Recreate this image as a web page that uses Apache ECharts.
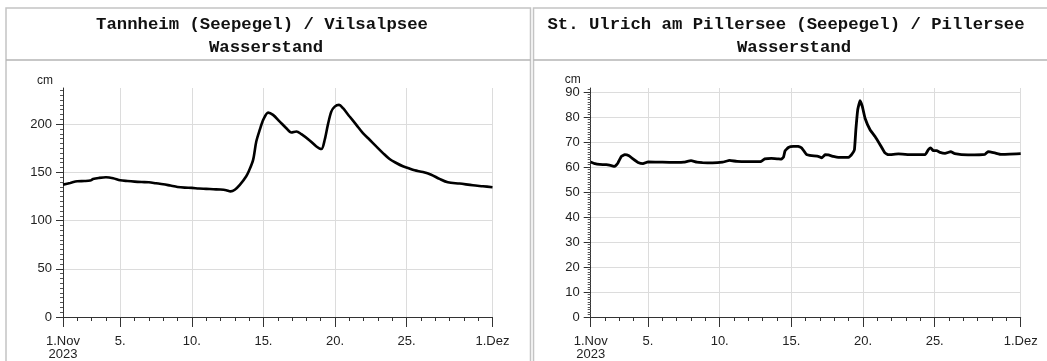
<!DOCTYPE html>
<html><head><meta charset="utf-8">
<script src="https://cdn.jsdelivr.net/npm/echarts@6/dist/echarts.min.js"></script>
<style>html,body{margin:0;padding:0;background:#fff}#c{width:1047px;height:361px}</style>
</head><body><div id="c"></div><script>
const titleLeft = ['Tannheim (Seepegel) / Vilsalpsee', 'Wasserstand'];
const titleRight = ['St. Ulrich am Pillersee (Seepegel) / Pillersee', 'Wasserstand'];
const unitName = 'cm';
const dayTicks = [1,2,3,4,5,6,7,8,9,10,11,12,13,14,15,16,17,18,19,20,21,22,23,24,25,26,27,28,29,30,31];
const xTickDays = [1,5,10,15,20,25,31];
const xTickLabels = ['1.Nov\n2023','5.','10.','15.','20.','25.','1.Dez'];
const yTicksLeft = [0,50,100,150,200];
const yTicksRight = [0,10,20,30,40,50,60,70,80,90];

// Tannheim / Vilsalpsee (day of Nov, fractional; cm)
const tannheimDays = [1,1.5,2,2.5,2.9,3.1,3.5,4,4.5,5,5.5,6,6.5,7,7.5,8,8.5,9,9.5,10,10.5,11,11.5,12,12.4,12.7,13,13.35,13.8,14,14.28,14.5,14.74,15,15.33,15.67,16.14,16.6,16.95,17.3,17.65,18.23,18.7,19.05,19.28,19.5,19.74,19.98,20.28,20.56,21.02,21.49,21.95,22.42,22.88,23.35,23.81,24.28,24.74,25.09,25.56,26.14,26.72,27.3,27.88,28.7,29.63,30.33,31];
const tannheimLevel = [137.3,139,140.8,141,141.5,143,144.2,145,144,141.8,141,140.4,140,139.7,138.7,137.7,136.3,134.9,134.2,133.9,133.2,132.9,132.5,132.2,131.5,130.3,132,137,146,152,163,182,194,205,212,209.6,202.7,195.8,191.4,192.4,189.6,183.1,176.9,174.2,183.8,199.3,213,218.2,220,216.5,207.9,199.3,190.7,183.8,176.9,170,163.8,159.7,156.3,154.5,152.1,150.4,147.6,143.2,139.7,138.4,136.6,135.6,134.6];

// St. Ulrich / Pillersee
const pillerDays = [1,1.3,1.63,2.09,2.44,2.67,2.9,3.14,3.37,3.67,3.95,4.3,4.65,5,6,7,7.5,8,8.4,8.8,9.5,10.2,10.7,11.2,12,12.84,13.14,13.6,14.07,14.3,14.45,14.56,14.79,15.14,15.49,15.72,16.07,16.42,16.88,17.12,17.35,17.58,17.93,18.28,18.98,19.2,19.4,19.5,19.63,19.79,19.95,20.14,20.49,20.84,21.19,21.53,21.77,22.47,23.4,24.33,24.56,24.72,24.9,25.14,25.37,25.72,26.12,26.4,27.33,28.5,28.72,29.19,29.65,31];
const pillerLevel = [62.1,61.4,61.1,61,60.6,60.3,61.7,64.3,65,64.6,63.3,61.9,61.4,62.1,62,61.9,62,62.6,62,61.8,61.7,62,62.7,62.3,62.2,62.2,63.3,63.5,63.3,63.2,64,66.5,67.9,68.3,68.3,67.7,65,64.6,64.3,63.7,65,64.9,64.3,63.9,63.9,65,67,75,83,86.6,84.3,79.6,75,72.3,69,65.7,65,65.3,65,65,67,67.7,66.6,66.6,65.9,65.5,66.2,65.4,64.9,65.1,66.2,65.7,65.1,65.4];

const axisColor = '#333';
const gridColor = '#dcdcdc';
const textColor = '#222';
const labelFont = 'Liberation Sans';

function pairs(xs, ys) { return xs.map((x, i) => [x, ys[i]]); }

function xAxesFor(g) {
  return [
    { gridIndex: g, type: 'value', min: 1, max: 31, position: 'bottom',
      axisLine: { show: true, lineStyle: { color: axisColor, width: 1 } },
      axisTick: { show: true, customValues: dayTicks, length: 4, lineStyle: { color: axisColor } },
      axisLabel: { show: false }, splitLine: { show: false } },
    { gridIndex: g, type: 'value', min: 1, max: 31, position: 'bottom',
      axisLine: { show: false },
      axisTick: { show: true, customValues: xTickDays, length: 10, lineStyle: { color: axisColor } },
      axisLabel: { show: true, customValues: xTickDays, showMinLabel: true, showMaxLabel: true,
        formatter: v => xTickLabels[xTickDays.indexOf(v)] || '',
        color: textColor, fontSize: 13, lineHeight: 13, margin: 18, fontFamily: labelFont },
      splitLine: { show: true, lineStyle: { color: gridColor, width: 1 } } }
  ];
}

function yAxisFor(g, max, interval, ticks) {
  return { gridIndex: g, type: 'value', min: 0, max: max, interval: interval,
    name: unitName, nameLocation: 'end', nameGap: 1,
    nameTextStyle: { align: 'right', verticalAlign: 'bottom', padding: [0, 10, 0, 0], color: textColor, fontSize: 12, fontFamily: labelFont },
    axisLine: { show: true, lineStyle: { color: axisColor, width: 1 } },
    axisTick: { show: true, customValues: ticks, length: 7, lineStyle: { color: axisColor } },
    minorTick: { show: true, splitNumber: 10, length: 3, lineStyle: { color: '#555' } },
    axisLabel: { customValues: ticks, color: textColor, fontSize: 13, margin: 11, fontFamily: labelFont },
    splitLine: { show: true, lineStyle: { color: gridColor, width: 1 } }
  };
}

function headerText(x, y, t) {
  return { type: 'text', x: x, y: y, silent: true,
    style: { text: t, font: 'bold 17.3px "Liberation Mono", "Courier New", monospace', fill: '#111', align: 'center', verticalAlign: 'middle' } };
}

const chart = echarts.init(document.getElementById('c'), null, { renderer: 'canvas' });
chart.setOption({
  animation: false,
  backgroundColor: '#fff',
  grid: [
    { left: 63, top: 88, width: 429.5, height: 230 },
    { left: 590.7, top: 88, width: 430, height: 230 }
  ],
  xAxis: [].concat(xAxesFor(0), xAxesFor(1)),
  yAxis: [ yAxisFor(0, 237.5, 50, yTicksLeft), yAxisFor(1, 91.7, 10, yTicksRight) ],
  graphic: [
    { type: 'rect', silent: true, shape: { x: 6, y: 8, width: 524.5, height: 400 }, style: { fill: 'none', stroke: '#c4c4c4', lineWidth: 1.5 } },
    { type: 'line', silent: true, shape: { x1: 6, y1: 60, x2: 530.5, y2: 60 }, style: { stroke: '#b4b4b4', lineWidth: 1.5 } },
    { type: 'rect', silent: true, shape: { x: 533.5, y: 8, width: 540, height: 400 }, style: { fill: 'none', stroke: '#c4c4c4', lineWidth: 1.5 } },
    { type: 'line', silent: true, shape: { x1: 533.5, y1: 60, x2: 1047, y2: 60 }, style: { stroke: '#b4b4b4', lineWidth: 1.5 } },
    headerText(262, 25, titleLeft[0]),
    headerText(266, 48, titleLeft[1]),
    headerText(786, 25, titleRight[0]),
    headerText(794, 48, titleRight[1])
  ],
  series: [
    { type: 'line', xAxisIndex: 0, yAxisIndex: 0, data: pairs(tannheimDays, tannheimLevel), showSymbol: false, smooth: 0.3,
      lineStyle: { color: '#000', width: 2.6 } },
    { type: 'line', xAxisIndex: 2, yAxisIndex: 1, data: pairs(pillerDays, pillerLevel), showSymbol: false, smooth: 0.1,
      lineStyle: { color: '#000', width: 2.8 } }
  ]
});
</script></body></html>
